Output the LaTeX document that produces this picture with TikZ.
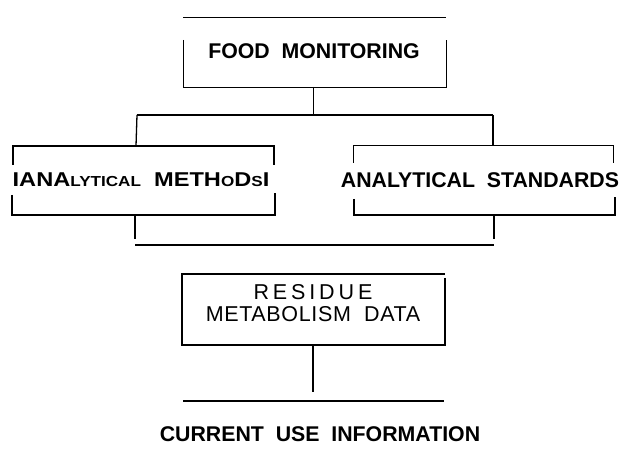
\documentclass[tikz,border=0pt]{standalone}
\usepackage{fontspec}
\setmainfont{Liberation Sans}
\newcommand\smallcap[1]{{\fontsize{14.5}{16}\selectfont #1}}
\begin{document}
\begin{tikzpicture}[x=1pt, y=-1pt, line width=1.3pt,
    thinline/.style={line width=0.9pt},
    label/.style={inner sep=0pt, font=\fontsize{21.3}{23}\selectfont\bfseries},
    wide/.style={inner sep=0pt, font=\fontsize{20}{22}\selectfont\bfseries\addfontfeature{FakeStretch=1.18}},
    plain/.style={inner sep=0pt, align=center, font=\fontsize{21.5}{22}\selectfont}]
    \useasboundingbox (0,0) rectangle (621,462);

    % Texty
    \node[label] (food) at (314,51) {FOOD\ \ MONITORING};
    \node[wide] (methods) at (141,180) {IANA\smallcap{LYTICAL}\ \ METH\smallcap{O}D\smallcap{S}I};
    \node[label] (standards) at (480,180) {ANALYTICAL\ \ STANDARDS};
    \node[plain] (residue) at (313,303) {{\addfontfeature{LetterSpace=18}RESIDUE}\\{\addfontfeature{LetterSpace=3}METABOLISM\ \ DATA}};
    \node[label] (current) at (320,434) {CURRENT\ \ USE\ \ INFORMATION};

    % Body spojek
    \coordinate (foodS) at (313,87);
    \coordinate (barL) at (137,115);
    \coordinate (barR) at (493,115);
    \coordinate (methodsS) at (135,215);
    \coordinate (standardsS) at (494,215);
    \coordinate (residueS) at (313,345);

    % FOOD MONITORING
    \draw[thinline] (183,17) -- (446,17);
    \draw[thinline] (183,40) |- (446,87) -- (446,40);
    \draw[thinline] (foodS) -- (313,115);
    \draw (barL) -- (barR);
    \draw (barL) -- (136,146);
    \draw (barR) -- (493,145);

    % ANALYTICAL METHODS
    \draw (13,165) |- (274,146) -- (274,165);
    \draw (12,195) |- (275,215) -- (275,193);
    \draw (methodsS) -- (135,239);

    % ANALYTICAL STANDARDS
    \draw[thinline] (353,163) |- (613,145) -- (613,163);
    \draw (354,199) |- (615,215) -- (615,197);
    \draw (standardsS) -- (494,239);
    \draw (135,245) -- (494,245);

    % RESIDUE
    \draw (445,278) -- (445,345) -| (182,274) -- (445,274);
    \draw (residueS) -- (313,392);
    \draw (183,401) -- (444,401);

\end{tikzpicture}
\end{document}
